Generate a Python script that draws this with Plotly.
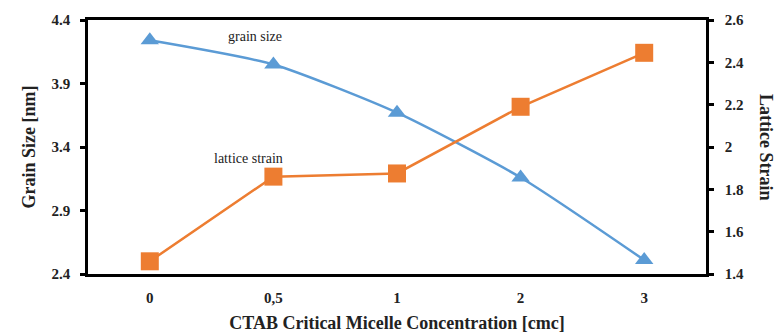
import plotly.graph_objects as go

categories = ["0", "0,5", "1", "2", "3"]
grain_size = [4.24, 4.05, 3.67, 3.16, 2.51]
lattice_strain = [1.46, 1.86, 1.875, 2.19, 2.445]
left_ticks = [2.4, 2.9, 3.4, 3.9, 4.4]
left_tick_text = ["2.4", "2.9", "3.4", "3.9", "4.4"]
right_ticks = [1.4, 1.6, 1.8, 2.0, 2.2, 2.4, 2.6]
right_tick_text = ["1.4", "1.6", "1.8", "2", "2.2", "2.4", "2.6"]

BLUE = "#5B9BD5"
ORANGE = "#ED7D31"
FONT = "Liberation Serif"

fig = go.Figure()
fig.add_trace(go.Scatter(
    x=categories, y=grain_size, mode="lines+markers", yaxis="y",
    line=dict(color=BLUE, width=2.5, shape="spline", smoothing=0.6),
    marker=dict(symbol="triangle-up", size=16, color=BLUE),
    showlegend=False))
fig.add_trace(go.Scatter(
    x=categories, y=lattice_strain, mode="lines+markers", yaxis="y2",
    line=dict(color=ORANGE, width=2.5),
    marker=dict(symbol="square", size=18, color=ORANGE),
    showlegend=False))

fig.update_layout(
    width=779, height=335,
    margin=dict(l=88, r=73, t=20, b=61),
    paper_bgcolor="white", plot_bgcolor="white",
    font=dict(family=FONT, color="#222"),
    xaxis=dict(type="category", range=[-0.5, 4.5], showline=True, linecolor="black", linewidth=2.5,
               mirror=True, ticks="", showgrid=False, zeroline=False, automargin=False,
               tickvals=categories, ticktext=[f"<b>{c}</b>" for c in categories],
               tickfont=dict(family=FONT, size=15, color="#222"),
               ticklabelstandoff=8,
               title=dict(text="<b>CTAB Critical Micelle Concentration [cmc]</b>",
                          font=dict(family=FONT, size=18, color="#222"), standoff=12)),
    yaxis=dict(range=[2.4, 4.4], tickvals=left_ticks, ticktext=[f"<b>{t}</b>" for t in left_tick_text],
               showline=True, linecolor="black", linewidth=2.5, ticks="outside", automargin=False,
               ticklen=5, tickwidth=2.5, tickcolor="black", showgrid=False, zeroline=False,
               tickfont=dict(family=FONT, size=15, color="#222"), ticklabelstandoff=7,
               title=dict(text="<b>Grain Size [nm]</b>",
                          font=dict(family=FONT, size=18, color="#222"), standoff=12)),
    yaxis2=dict(range=[1.4, 2.6], tickvals=right_ticks, ticktext=[f"<b>{t}</b>" for t in right_tick_text],
                overlaying="y", side="right", automargin=False,
                showline=True, linecolor="black", linewidth=2.5, ticks="outside",
                ticklen=5, tickwidth=2.5, tickcolor="black", showgrid=False, zeroline=False,
                tickfont=dict(family=FONT, size=15, color="#222"), ticklabelstandoff=8),
    annotations=[
        dict(text="<b>Lattice Strain</b>", textangle=90, xref="paper", yref="paper",
             x=1.0, xanchor="center", xshift=60, y=0.5, showarrow=False,
             font=dict(family=FONT, size=18, color="#222")),
        dict(text="grain size", xref="x", yref="y", x=0.85, y=4.27, showarrow=False,
             font=dict(family=FONT, size=14, color="#222")),
        dict(text="lattice strain", xref="x", yref="y", x=0.8, y=3.31, showarrow=False,
             font=dict(family=FONT, size=14, color="#222")),
    ],
)

fig.write_html("out.html")
